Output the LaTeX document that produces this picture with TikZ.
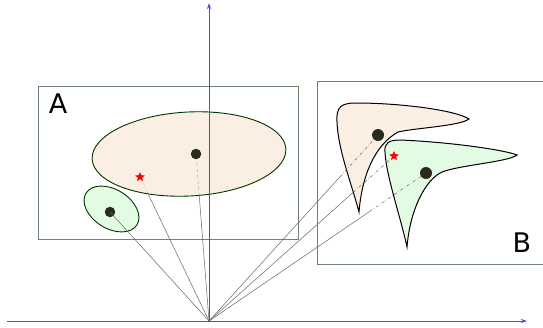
\documentclass[tikz,border=0pt]{standalone}
\usepackage{fontspec}
\setsansfont{DejaVu Sans}
\usetikzlibrary{shapes.geometric, calc, arrows.meta}

\definecolor{peach}{HTML}{FAEFE2}
\definecolor{mint}{HTML}{E3FBE3}
\definecolor{boxgray}{HTML}{6E836E}
\definecolor{axisblue}{HTML}{4A4AF5}
\definecolor{dotdark}{HTML}{2A2A1C}

\tikzset{
    dot/.style={circle, fill=dotdark, minimum size=10.5pt, inner sep=0pt},
    redstar/.style={star, star points=5, star point ratio=2.2, fill=red, minimum size=10pt, inner sep=0pt},
    ray/.style={draw=black!60, line width=0.5pt},
    blob/.style={draw=black, line width=1pt},
    frame/.style={draw=boxgray, line width=0.8pt},
    axis/.style={draw=axisblue, line width=0.8pt, -{Stealth[length=6pt, width=4pt]}},
    biglabel/.style={font=\sffamily\fontsize{27}{27}\selectfont, inner sep=0pt}
}

\begin{document}
\begin{tikzpicture}[x=1pt, y=-1pt]
    \useasboundingbox (0,0) rectangle (543,327);

    % Frames
    \draw[frame] (38,86) rectangle (298,239);
    \draw[frame] (317,81) rectangle (546,264);
    \node[biglabel] (labA) at (58,104) {A};
    \node[biglabel] (labB) at (522,243) {B};

    % Regions in A
    \node[ellipse, draw=black!80!green, line width=0.9pt, fill=peach, minimum width=194pt, minimum height=84pt, rotate=3] (ellA) at (189,154) {};
    \node[ellipse, draw=black!80!green, line width=0.9pt, fill=mint, minimum width=60pt, minimum height=39pt, rotate=-32] (ellS) at (111.5,209) {};

    % Regions in B
    \draw[blob, fill=peach] (337,122) .. controls (336,107) and (341,103) .. (356,103)
        .. controls (400,103) and (455,110) .. (469,119)
        .. controls (460,126) and (415,128) .. (398,132)
        .. controls (375,145) and (362,175) .. (359,212)
        .. controls (352,185) and (338,150) .. (337,122) -- cycle;
    \draw[blob, fill=mint] (385,152) .. controls (384,143) and (389,140) .. (400,140)
        .. controls (450,142) and (505,150) .. (517,155)
        .. controls (508,162) and (460,165) .. (442,172)
        .. controls (425,180) and (410,210) .. (407,247)
        .. controls (400,215) and (386,175) .. (385,152) -- cycle;

    % Points
    \node[dot] (cA) at (196,154) {};
    \node[dot] (cS) at (110,212) {};
    \node[redstar] (sA) at (140,177) {};
    \node[dot, minimum width=10.5pt, minimum height=12pt] (cP) at (378,135) {};
    \node[dot, minimum width=10.5pt, minimum height=12pt] (cG) at (426,173) {};
    \node[redstar] (sB) at (394,156) {};

    % Axes
    \coordinate (O) at (209,321);
    \draw[axis] (7,321) -- (527,321);
    \draw[axis] (O) -- (209,3);

    % Rays to A
    \coordinate (eA) at ($(O)!0.75!(cA)$);
    \coordinate (eS) at ($(O)!0.875!(sA)$);
    \draw[ray] (O) -- (eA);
    \draw[ray, draw=black!35, dashed] (eA) -- (cA);
    \draw[ray] (O) -- (eS);
    \draw[ray, draw=black!40, dotted] (eS) -- (sA);
    \draw[ray] (O) -- (cS.center);

    % Rays to B
    \coordinate (eP) at ($(O)!0.775!(cP)$);
    \coordinate (eB) at ($(O)!0.78!(sB)$);
    \coordinate (eG) at ($(O)!0.74!(cG)$);
    \draw[ray] (O) -- (eP);
    \draw[ray, dashdotted] (eP) -- (cP);
    \draw[ray] (O) -- (eB);
    \draw[ray, dashdotted] (eB) -- (sB);
    \draw[ray] (O) -- (eG);
    \draw[ray, dashdotted] (eG) -- (cG);
\end{tikzpicture}
\end{document}
